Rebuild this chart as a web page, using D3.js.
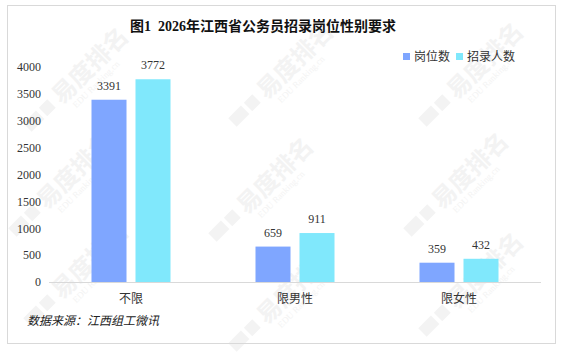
<!DOCTYPE html>
<html>
<head>
<meta charset="utf-8">
<script src="https://cdn.jsdelivr.net/npm/d3@7"></script>
<style>
  body { margin: 0; background: #fff; }
  text { font-family: "Liberation Serif", "Noto Sans CJK SC", serif; }
</style>
</head>
<body>
<div id="wrapper"></div>
<script>
const categories = ["不限", "限男性", "限女性"]
const seriesNames = ["岗位数", "招录人数"]
const posts = [3391, 659, 359]
const hires = [3772, 911, 432]
const yTicks = [0, 500, 1000, 1500, 2000, 2500, 3000, 3500, 4000]
const colors = ["#7fa6ff", "#80e8fc"]

function drawChart () {
  const width = 562
  const height = 352

  const svg = d3.select("#wrapper")
    .append("svg")
    .attr("width", width)
    .attr("height", height)

  // faint watermark tiles
  const wm = svg.append("g")
  const spots = [[60, 95], [265, 90], [455, 90], [45, 200], [245, 205], [440, 200], [60, 290], [265, 315], [455, 300]]
  spots.forEach(([cx, cy]) => {
    const g = wm.append("g").attr("transform", `translate(${cx},${cy}) rotate(-45)`)
    g.append("rect").attr("x", -46).attr("y", -6).attr("width", 18).attr("height", 12).attr("fill", "#f3f3f3")
    g.append("rect").attr("x", -24).attr("y", -6).attr("width", 12).attr("height", 12).attr("fill", "#f3f3f3")
    g.append("text").attr("x", -6).attr("y", 9).attr("font-size", 24).attr("font-weight", "bold")
      .attr("fill", "#f3f3f3").style("font-family", "Noto Sans CJK SC").text("易度排名")
    g.append("text").attr("x", 2).attr("y", 21).attr("font-size", 9)
      .attr("fill", "#f3f3f3").text("EDU Ranking.cn")
  })

  svg.append("rect")
    .attr("x", 7.5).attr("y", 5.5)
    .attr("width", 548).attr("height", 338)
    .attr("fill", "none")
    .attr("stroke", "#d9d9d9")

  svg.append("text")
    .attr("x", 263).attr("y", 31)
    .attr("text-anchor", "middle")
    .attr("font-size", 14)
    .attr("font-weight", "bold")
    .attr("fill", "#111")
    .style("white-space", "pre")
    .text("图1  2026年江西省公务员招录岗位性别要求")

  const x0 = d3.scaleBand().domain(categories).range([49, 541])
  const x1 = d3.scaleBand().domain(seriesNames).range([-39.5, 39.5]).paddingInner(0.2045)
  const y = d3.scaleLinear().domain([0, 4000]).range([282, 67])

  // y tick labels (no axis line)
  const yAxis = d3.axisLeft(y).tickValues(yTicks).tickFormat(d3.format("d")).tickSize(0).tickPadding(0)
  const yg = svg.append("g").attr("transform", "translate(41,0)").call(yAxis)
  yg.select(".domain").remove()
  yg.selectAll("text").attr("font-size", 12).attr("fill", "#333")
    .style("font-family", "Liberation Serif")

  svg.append("line")
    .attr("x1", 49).attr("x2", 541)
    .attr("y1", y(0) + 0.5).attr("y2", y(0) + 0.5)
    .attr("stroke", "#d9d9d9")

  const rows = categories.map((c, i) => ({ cat: c, values: [posts[i], hires[i]] }))

  const groups = svg.selectAll(".grp").data(rows).enter().append("g")
    .attr("class", "grp")
    .attr("transform", d => `translate(${x0(d.cat) + x0.bandwidth() / 2},0)`)

  groups.selectAll("rect").data(d => d.values.map((v, j) => ({ s: seriesNames[j], v, j })))
    .enter().append("rect")
    .attr("x", d => x1(d.s))
    .attr("width", x1.bandwidth())
    .attr("y", d => y(d.v))
    .attr("height", d => y(0) - y(d.v))
    .attr("fill", d => colors[d.j])

  groups.selectAll(".lbl").data(d => d.values.map((v, j) => ({ s: seriesNames[j], v, j })))
    .enter().append("text")
    .attr("class", "lbl")
    .attr("x", d => x1(d.s) + x1.bandwidth() / 2)
    .attr("y", d => y(d.v) - 10)
    .attr("text-anchor", "middle")
    .attr("font-size", 12)
    .attr("fill", "#333")
    .text(d => d.v)

  // x category labels
  svg.selectAll(".cat").data(categories).enter().append("text")
    .attr("class", "cat")
    .attr("x", d => x0(d) + x0.bandwidth() / 2)
    .attr("y", 303)
    .attr("text-anchor", "middle")
    .attr("font-size", 12)
    .attr("fill", "#333")
    .text(d => d)

  // legend
  const legendX = [403, 456]
  seriesNames.forEach((s, i) => {
    svg.append("rect").attr("x", legendX[i]).attr("y", 53).attr("width", 7).attr("height", 7).attr("fill", colors[i])
    svg.append("text").attr("x", legendX[i] + 11).attr("y", 61)
      .attr("font-size", 12).attr("fill", "#333").text(s)
  })

  svg.append("text")
    .attr("x", 27).attr("y", 325)
    .attr("font-size", 12)
    .attr("font-style", "italic")
    .attr("fill", "#222")
    .text("数据来源：江西组工微讯")
}

drawChart()
</script>
</body>
</html>
